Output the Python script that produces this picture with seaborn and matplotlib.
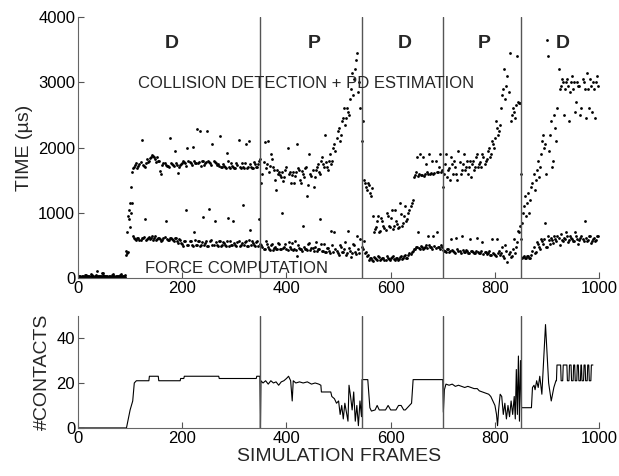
import numpy as np
import matplotlib
matplotlib.use("Agg")
import matplotlib.pyplot as plt
import seaborn as sns

frames_a = np.arange(0, 1000, 4)
frames_b = np.arange(2, 1000, 4)

# collision detection + PD estimation time (us)
cd_time_a = [
    30, 25, 35, 20, 40, 30, 25, 35, 30, 110, 25, 30, 40, 25, 35, 30, 20, 35, 30, 25, 40, 30, 25,
    420, 950, 1150, 1620, 1700, 1760, 1720, 1780, 1740, 1700,
    1820, 1790, 1850, 1870, 1830, 1860, 1800, 1600, 1760, 1740,
    1710, 2150, 1750, 1720, 1760, 1610, 1740, 1760, 1780, 1720,
    1800, 1760, 2010, 1760, 2290, 1780, 1720, 1790, 1760, 2250,
    1780, 1730, 1800, 1770, 1750, 2170, 1700, 1720, 1690, 1800,
    1690, 1720, 1690, 1760, 2110, 1690, 1700, 1770, 1690, 2100,
    1700, 1690, 1750, 1700, 1800, 1450, 1780, 1680, 2100, 1720,
    1820, 1650, 1350, 1600, 1580, 1620, 1550, 1700, 1600, 1460,
    1630, 1570, 2050, 1650, 1450, 1600, 1680, 1250, 1900, 1560,
    1400, 1650, 1750, 1600, 1850, 1700, 1780, 1650, 1900, 1800,
    2050, 2150, 2300, 2200, 2450, 2350, 2600, 2500, 2900, 2800,
    3200, 3450, 3000, 2100, 1500, 1400, 1450, 1300, 1380, 700,
    780, 950, 720, 870, 760, 1000, 800, 920, 750, 1050,
    830, 780, 980, 850, 1100, 900, 1050, 1150, 1550, 1620,
    1560, 1900, 1580, 1570, 1750, 1600, 1590, 1800, 1610, 1620,
    1700, 1620, 1400, 1750, 1550, 1680, 1850, 1600, 1700, 1500,
    1780, 1650, 1900, 1700, 1600, 1800, 1750, 1650, 1850, 1700,
    1780, 1900, 1750, 1820, 2000, 1900, 2050, 2150, 2300, 2250,
    2600, 2900, 2750, 3100, 3450, 2500, 2550, 2650, 2700, 2680,
    850, 1100, 950, 1300, 1200, 1450, 1350, 1650, 1550, 1900,
    2200, 2050, 3650, 1950, 2400, 1800, 2300, 2600, 2900, 3050,
    2500, 3000, 2950, 2850, 3100, 3000, 2700, 2950, 2500, 3050,
    2900, 3150, 2600, 2950, 3000, 2450, 3100,
]
cd_time_b = [
    35, 20, 30, 45, 25, 30, 40, 20, 35, 30, 25, 80, 30, 35, 20, 30, 40, 25, 30, 35, 20, 30, 40,
    700, 1050, 1400, 1680, 1730, 1690, 1750, 2120, 1720, 1760,
    1780, 1840, 1880, 1850, 1780, 1800, 1640, 1740, 1770, 1720,
    1700, 1760, 1730, 1950, 1740, 1700, 1750, 1800, 1760, 2000,
    1780, 1740, 1800, 1770, 1760, 2250, 1790, 1740, 1780, 1790,
    1760, 2050, 1780, 1740, 1720, 1700, 1750, 1700, 1920, 1700,
    1760, 1700, 1690, 1730, 1700, 1760, 1690, 2050, 1700, 1750,
    1690, 1780, 1700, 1750, 1820, 1600, 2080, 1750, 1620, 1900,
    1700, 1500, 1650, 1620, 1550, 1480, 1650, 2000, 1620, 1580,
    1450, 1620, 1680, 1500, 1640, 1550, 1700, 1420, 1600, 1650,
    1550, 1700, 1620, 1800, 1750, 2200, 1700, 1800, 1750, 2000,
    1950, 2250, 2100, 2400, 2600, 2450, 2550, 2750, 3150, 3050,
    3350, 2850, 2600, 2400, 1450, 1350, 1420, 1250, 950, 750,
    880, 700, 920, 800, 730, 950, 780, 1050, 800, 880,
    760, 1150, 800, 950, 880, 1000, 1100, 1200, 1580, 1850,
    1600, 1580, 1850, 1590, 1620, 1900, 1610, 1600, 1800, 1630,
    1900, 1650, 1600, 1900, 1650, 1500, 1750, 1800, 1600, 1950,
    1600, 1750, 1650, 1800, 1700, 1550, 1800, 1700, 1900, 1750,
    1700, 1850, 1800, 1950, 1850, 2100, 2000, 2400, 2200, 2350,
    2800, 3200, 2950, 2850, 2400, 2600, 2450, 3400, 2680, 1600,
    1000, 1250, 1150, 1000, 1400, 1600, 1500, 1800, 1700, 2100,
    2000, 1600, 3400, 2200, 1700, 2500, 2100, 3200, 2950, 3000,
    2900, 3050, 2400, 3000, 2900, 2550, 3000, 2950, 2600, 3000,
    2450, 2900, 3050, 2550, 2900, 3000, 2950,
]

# force computation time (us)
fc_time_a = [
    10, 15, 5, 12, 18, 8, 60, 10, 15, 5, 12, 8, 70, 15, 10, 5, 12, 55, 10, 8, 15, 10, 5,
    350, 400, 780, 1150, 620, 590, 610, 580, 620, 900,
    600, 630, 610, 590, 640, 600, 620, 570, 610, 880,
    590, 620, 600, 570, 610, 540, 580, 520, 570, 1050,
    500, 560, 490, 580, 510, 560, 500, 930, 540, 490,
    1060, 580, 500, 550, 490, 570, 500, 540, 490, 920,
    560, 500, 540, 490, 570, 500, 1120, 550, 490, 580,
    500, 540, 490, 560, 900, 500, 450, 560, 470, 430,
    520, 460, 440, 540, 450, 1000, 470, 440, 550, 450,
    430, 560, 330, 460, 440, 800, 450, 430, 530, 460,
    420, 550, 440, 900, 420, 520, 400, 460, 380, 500,
    700, 420, 360, 480, 400, 550, 380, 460, 320, 520,
    400, 650, 380, 480, 560, 400, 350, 300, 270, 320,
    290, 340, 280, 310, 270, 330, 290, 300, 340, 280,
    310, 290, 330, 300, 350, 310, 380, 400, 440, 470,
    700, 450, 480, 460, 500, 650, 470, 450, 490, 700,
    470, 500, 430, 410, 450, 400, 600, 420, 390, 440,
    410, 650, 400, 430, 390, 600, 410, 380, 420, 400,
    380, 550, 400, 370, 410, 360, 380, 350, 600, 420,
    380, 340, 500, 250, 400, 330, 600, 480, 720, 800,
    300, 330, 310, 340, 300, 420, 380, 550, 480, 600,
    520, 850, 470, 580, 620, 540, 600, 650, 500, 580,
    620, 700, 550, 650, 600, 560, 640, 520, 620, 600,
    880, 570, 640, 530, 600, 560, 650,
]
fc_time_b = [
    12, 8, 15, 10, 5, 14, 8, 12, 50, 10, 6, 14, 10, 8, 12, 15, 6, 10, 12, 8, 65, 10, 12,
    380, 900, 1000, 650, 600, 620, 590, 610, 630, 580,
    620, 600, 650, 610, 580, 620, 600, 590, 630, 600,
    580, 610, 590, 620, 560, 600, 530, 490, 560, 500,
    570, 510, 700, 500, 560, 490, 550, 500, 570, 490,
    560, 500, 870, 500, 560, 490, 550, 500, 560, 490,
    500, 880, 500, 550, 490, 540, 500, 560, 490, 730,
    560, 500, 550, 490, 520, 480, 440, 520, 450, 500,
    430, 480, 450, 520, 440, 460, 520, 430, 470, 540,
    450, 430, 500, 450, 420, 480, 440, 520, 430, 460,
    480, 410, 440, 520, 420, 400, 460, 420, 720, 400,
    440, 380, 500, 400, 450, 360, 720, 420, 380, 500,
    370, 450, 600, 450, 380, 330, 280, 310, 260, 300,
    270, 320, 290, 300, 270, 310, 280, 320, 290, 300,
    280, 320, 290, 330, 300, 350, 370, 420, 450, 480,
    460, 490, 450, 480, 460, 500, 470, 650, 460, 480,
    450, 470, 420, 400, 440, 410, 430, 400, 620, 420,
    390, 430, 400, 410, 380, 420, 400, 390, 620, 380,
    410, 370, 400, 380, 360, 600, 370, 340, 380, 350,
    480, 300, 420, 370, 320, 450, 380, 550, 700, 600,
    320, 300, 330, 310, 350, 480, 400, 520, 450, 560,
    600, 480, 650, 520, 580, 640, 560, 620, 680, 560,
    600, 650, 580, 620, 560, 700, 600, 580, 650, 560,
    620, 590, 640, 560, 620, 580, 640,
]

# number of contacts (polyline breakpoints)
contact_frames = [
    0, 93, 100, 105, 108, 112, 136, 137, 154, 155, 196, 197, 203, 204, 270, 271,
    342, 343, 349, 350, 351, 355, 360, 365, 370, 375, 380, 385, 390, 395, 400, 404,
    408, 411, 413, 418, 425, 432, 440, 448, 455, 462, 466, 467, 485, 487, 492, 496,
    500, 503, 506, 509, 512, 515, 518, 520, 523, 526, 529, 532, 535, 538, 541, 544,
    545, 556, 560, 563, 570, 574, 578, 585, 590, 595, 600, 605, 610, 615, 620, 625,
    628, 632, 636, 640, 643, 700, 701, 703, 706, 712, 718, 724, 730, 736, 742, 748,
    754, 760, 766, 770, 776, 782, 788, 792, 796, 800, 803, 805, 807, 810, 813, 816,
    819, 822, 825, 828, 831, 834, 837, 839, 841, 843, 845, 847, 849, 851, 870, 872,
    875, 877, 880, 883, 886, 890, 897, 903, 908, 913, 917, 918, 919, 926, 927, 930,
    931, 938, 939, 942, 943, 946, 947, 950, 951, 953, 954, 957, 958, 960, 961, 964,
    965, 966, 967, 970, 971, 973, 974, 977, 978, 980, 981, 984, 985, 988,
]
contact_counts = [
    0, 0, 8, 12, 20, 21, 21, 23, 23, 21, 21, 22, 22, 23, 23, 22,
    22, 23, 23, 0, 21, 20, 21, 19.5, 21, 20, 20.5, 19, 20.5, 21, 22, 23,
    21, 12, 21, 20, 20.5, 20, 20.5, 19.5, 20, 19.5, 19, 16, 16, 14, 13, 11,
    12, 6, 10, 4, 11, 7, 3, 19, 14, 8, 16, 3, 10, 1, 12, 5,
    21.5, 21.5, 9, 7.5, 8, 10, 8, 8, 8, 10, 8, 8, 8, 10, 10, 8,
    8, 9, 10, 11, 21.5, 21.5, 7, 17, 19.5, 19, 19.5, 18.5, 19, 18.5, 18, 18.5,
    18, 17.5, 17.5, 16.5, 16, 15.5, 15, 14, 12, 10, 6, 1, 8, 15, 14, 6,
    11, 4, 10, 5, 12, 6, 14, 4, 26, 6, 32, 3, 30, 9, 9, 18,
    19, 17, 21, 18, 23, 15, 46, 20, 12, 18, 21, 21, 28, 28, 21, 21,
    28, 28, 21, 21, 28, 28, 21, 21, 28, 28, 21, 21, 28, 28, 21, 21,
    28, 28, 21, 21, 28, 28, 21, 21, 28, 28, 21, 21, 28, 28,
]

# phase boundaries and labels
phase_edges = [0, 350, 545, 700, 850, 1000]
phase_labels = ["D", "P", "D", "P", "D"]

sns.set_style("white")
plt.rcParams["font.family"] = ["Liberation Sans", "DejaVu Sans"]

fig = plt.figure(figsize=(6.19, 4.76), dpi=100)
ax1 = fig.add_axes([0.126, 0.416, 0.842, 0.548])
ax2 = fig.add_axes([0.126, 0.101, 0.842, 0.236])

frames_all = np.concatenate([frames_a, frames_b])
for series in (cd_time_a + cd_time_b, fc_time_a + fc_time_b):
    sns.scatterplot(x=frames_all, y=series, ax=ax1, s=4, color="black", linewidth=0)
sns.lineplot(x=contact_frames, y=contact_counts, ax=ax2, color="black",
             linewidth=0.8, estimator=None, sort=False)

for ax in (ax1, ax2):
    for edge in phase_edges[1:-1]:
        ax.axvline(edge, color="#555555", linewidth=1)
    ax.set_xlim(0, 1000)
    ax.set_xticks([0, 200, 400, 600, 800, 1000])
    ax.tick_params(direction="in", length=4, width=0.8, colors="#555555",
                   labelcolor="black", labelsize=12, pad=2, bottom=True, left=True)
    for side in ("top", "right"):
        ax.spines[side].set_visible(False)
    for side in ("left", "bottom"):
        ax.spines[side].set_color("#666666")
        ax.spines[side].set_linewidth(0.8)

ax1.set_ylim(0, 4000)
ax1.set_yticks([0, 1000, 2000, 3000, 4000])
ax1.set_ylabel("TIME (\u00b5s)", fontsize=14, labelpad=4)

for i, lab in enumerate(phase_labels):
    mid = (phase_edges[i] + phase_edges[i + 1]) / 2 + 5
    ax1.text(mid, 3600, lab, ha="center", va="center", fontsize=14, fontweight="bold")
ax1.text(438, 2990, "COLLISION DETECTION + PD ESTIMATION", ha="center", va="center", fontsize=12)
ax1.text(304, 150, "FORCE COMPUTATION", ha="center", va="center", fontsize=12)

ax2.set_ylim(0, 50)
ax2.set_yticks([0, 20, 40])
ax2.set_ylabel("#CONTACTS", fontsize=14, labelpad=4)
ax2.set_xlabel("SIMULATION FRAMES", fontsize=14, labelpad=2)

fig.savefig("out.png", dpi=100)
